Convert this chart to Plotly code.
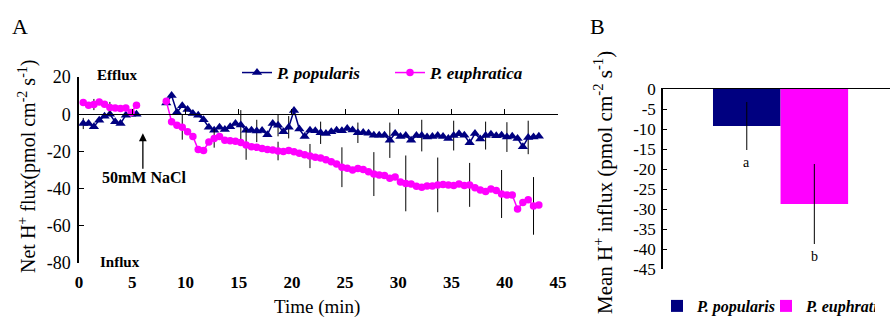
import plotly.graph_objects as go

W, H = 890, 322
FONT = "Liberation Serif"
NAVY = "#000080"
MAG = "#FF00FF"

def fx(px):
    return px / W

def fy(py):
    return 1 - py / H

# ---------------- Panel A data ----------------
t_before = [0.4, 0.9, 1.4, 1.9, 2.4, 2.9, 3.4, 3.9, 4.4, 4.9, 5.4]
pop_before = [-5.0, -5.0, -6.8, -3.2, -1.1, 0.0, -4.1, -5.0, -0.5, 0.0, 0.0]
eup_before = [6.3, 4.8, 5.2, 6.6, 5.4, 3.6, 3.4, 3.0, 3.4, 0.9, 4.8]
pop_before_err = [3, 0, 0, 0, 0, 0, 0, 0, 0, 0, 0]
eup_before_err = [0, 0, 3, 0, 0, 3, 0, 0, 0, 0, 0]

t_after = [8.2, 8.7, 9.2, 9.7, 10.2, 10.7, 11.2, 11.7, 12.2, 12.7,
           13.2, 13.7, 14.2, 14.7, 15.2, 15.7, 16.2, 16.7, 17.2, 17.7,
           18.2, 18.7, 19.2, 19.7, 20.2, 20.7, 21.2, 21.7, 22.2, 22.7,
           23.2, 23.7, 24.2, 24.7, 25.2, 25.7, 26.2, 26.7, 27.2, 27.7,
           28.2, 28.7, 29.2, 29.7, 30.2, 30.7, 31.2, 31.7, 32.2, 32.7,
           33.2, 33.7, 34.2, 34.7, 35.2, 35.7, 36.2, 36.7, 37.2, 37.7,
           38.2, 38.7, 39.2, 39.7, 40.2, 40.7, 41.2, 41.7, 42.2, 42.7,
           43.2]
pop_after = [6, 10, 1, 4.5, 2.5, 0.4, -0.5, -3, -7, -8.6,
             -7, -8.2, -6.8, -5, -5.8, -8.6, -8.6, -9, -8.8, -11,
             -5, -5.9, -9.5, -7, 2, -8, -12, -8.6, -8.9, -10,
             -10.4, -9.5, -8.6, -8.9, -7.7, -8.5, -10, -9.8, -10.2, -11.3,
             -11.3, -11.3, -14, -10.4, -12, -11.5, -14, -11.5, -11.5, -12.3,
             -12, -11.5, -12, -13, -11.5, -10.5, -11.3, -15.4, -10.4, -13.3,
             -11.5, -10.8, -11.6, -11.3, -12.3, -11.8, -13, -17.5, -12.5, -12.2,
             -11.8]
eup_after = [7, -4, -6, -7, -9.5, -12, -19, -19.5, -15, -13,
             -12, -14, -14.3, -14.5, -15.2, -16.5, -17.5, -17.8, -18.4, -19,
             -19.3, -19.8, -20, -19.5, -20.2, -21, -21.8, -22.5, -23.2, -23.6,
             -24.5, -25.5, -26.8, -28.5, -29, -30, -29.2, -29.7, -31, -32.2,
             -32.7, -33, -34.5, -33.8, -36.5, -37.2, -37.5, -38.8, -39.3, -38.6,
             -38.6, -38, -37.8, -38, -38.3, -37.5, -38.3, -38, -39.5, -40.8,
             -41.5, -40.2, -41, -42.9, -43.4, -43.4, -51, -47.5, -46, -49.3,
             -48.8]
pop_after_err = [0, 0, 0, 0, 0, 0, 0, 0, 0, 0,
                 0, 0, 0, 0, 8, 0, 0, 6, 0, 0,
                 0, 6, 0, 6, 0, 0, 0, 0, 0, 6,
                 0, 0, 0, 0, 0, 0, 5.5, 0, 0, 0,
                 0, 0, 9.5, 0, 0, 0, 0, 0, 8.5, 0,
                 0, 0, 0, 0, 8, 0, 0, 0, 0, 0,
                 7.5, 0, 0, 0, 8, 0, 0, 0, 9, 0,
                 0]
eup_after_err = [0, 0, 0, 6.7, 0, 0, 0, 0, 0, 5,
                 0, 0, 0, 0, 0, 8, 0, 0, 0, 0,
                 0, 5, 0, 0, 0, 0, 0, 6.5, 0, 0,
                 0, 0, 0, 10.7, 0, 0, 0, 0, 0, 11.8,
                 0, 0, 0, 0, 0, 15, 0, 0, 0, 0,
                 0, 14.7, 0, 0, 0, 0, 0, 11.8, 0, 0,
                 0, 0, 0, 12.9, 0, 0, 0, 0, 0, 15.5,
                 0]

x_ticks_A = [0, 5, 10, 15, 20, 25, 30, 35, 40, 45]
x_ticktext_A = ["0", "5", "10", "15", "20", "25", "30", "35", "40", "45"]
y_ticks_A = [-80, -60, -40, -20, 0, 20]
y_ticktext_A = ["-80", "-60", "-40", "-20", "0", "20"]

# ---------------- Panel B data ----------------
species = ["P. popularis", "P. euphratica"]
mean_influx = [-9.25, -28.75]
mean_err = [6, 10]
sig_letters = ["a", "b"]
bar_colors = [NAVY, MAG]
y_ticks_B = [-45, -40, -35, -30, -25, -20, -15, -10, -5, 0]
y_ticktext_B = ["-45", "-40", "-35", "-30", "-25", "-20", "-15", "-10", "-5", "0"]


def join(a, b):
    return list(a) + [None] + list(b)


def err(a, b):
    return [None if (v is None or v == 0) else v for v in join(a, b)]


fig = go.Figure()

fig.add_trace(go.Scatter(
    x=join(t_before, t_after), y=join(pop_before, pop_after),
    mode="lines+markers", name="<b><i>P. popularis</i></b>",
    line=dict(color=NAVY, width=1.5),
    marker=dict(symbol="triangle-up", size=9, color=NAVY),
    error_y=dict(type="data", array=err(pop_before_err, pop_after_err),
                 symmetric=True, color="black", thickness=1, width=0),
    connectgaps=False, xaxis="x", yaxis="y", legend="legend",
))
fig.add_trace(go.Scatter(
    x=join(t_before, t_after), y=join(eup_before, eup_after),
    mode="lines+markers", name="<b><i>P. euphratica</i></b>",
    line=dict(color=MAG, width=1.5),
    marker=dict(symbol="circle", size=7.5, color=MAG),
    error_y=dict(type="data", array=err(eup_before_err, eup_after_err),
                 symmetric=True, color="black", thickness=1, width=0),
    connectgaps=False, xaxis="x", yaxis="y", legend="legend",
))
# carrier trace for the zero-line axis with its tick marks
fig.add_trace(go.Scatter(x=[None], y=[None], xaxis="x2", yaxis="y",
                         showlegend=False, hoverinfo="skip"))

for i, sp in enumerate(species):
    fig.add_trace(go.Bar(
        x=[i], y=[mean_influx[i]], width=1,
        name="<b><i>" + sp + "</i></b>",
        marker=dict(color=bar_colors[i], line=dict(width=0)),
        error_y=dict(type="data", array=[mean_err[i]], symmetric=True,
                     color="black", thickness=1, width=0),
        xaxis="x3", yaxis="y3", legend="legend2",
    ))

yA_dom = [fy(263), fy(77)]
zero_pos = yA_dom[0] + (0 - (-80)) / 100 * (yA_dom[1] - yA_dom[0])

axis_common = dict(showgrid=False, zeroline=False)

fig.update_layout(
    width=W, height=H,
    margin=dict(l=0, r=0, t=0, b=0, autoexpand=False),
    paper_bgcolor="white", plot_bgcolor="white",
    font=dict(family=FONT, color="black"),
    barmode="overlay",
    xaxis=dict(domain=[fx(79), fx(558)], range=[0, 45], anchor="y",
               tickvals=x_ticks_A, ticktext=x_ticktext_A,
               tickfont=dict(size=17, weight="bold", family=FONT),
               showline=False, ticks="", ticklabelstandoff=7, **axis_common),
    xaxis2=dict(overlaying="x", anchor="free", position=zero_pos,
                range=[0, 45], tickvals=x_ticks_A, showticklabels=False,
                showline=True, linecolor="black", linewidth=1,
                ticks="inside", ticklen=5, tickcolor="black", tickwidth=1,
                **axis_common),
    yaxis=dict(domain=yA_dom, range=[-80, 20], anchor="x",
               tickvals=y_ticks_A, ticktext=y_ticktext_A,
               tickfont=dict(size=18, family=FONT),
               showline=True, linecolor="black", linewidth=1.5,
               ticks="inside", ticklen=5, tickcolor="black",
               ticklabelstandoff=3, **axis_common),
    xaxis3=dict(domain=[fx(663), 1.0], range=[-1.24, 2.12], anchor="y3",
                side="top", showline=True, linecolor="black", linewidth=1,
                ticks="", showticklabels=False, **axis_common),
    yaxis3=dict(domain=[fy(269), fy(89)], range=[-45, 0], anchor="x3",
                tickvals=y_ticks_B, ticktext=y_ticktext_B,
                tickfont=dict(size=17, family=FONT),
                showline=True, linecolor="black", linewidth=1.5,
                ticks="inside", ticklen=4, tickcolor="black",
                ticklabelstandoff=2, **axis_common),
    legend=dict(orientation="h", x=fx(237), xanchor="left",
                y=fy(73), yanchor="middle", entrywidth=108,
                font=dict(size=17, family=FONT), bgcolor="rgba(0,0,0,0)"),
    legend2=dict(orientation="h", x=fx(657), xanchor="left",
                 y=fy(306), yanchor="middle", itemwidth=30, entrywidth=64,
                 font=dict(size=16, family=FONT), bgcolor="rgba(0,0,0,0)"),
)


def label(text, px, py, size, angle=0):
    return dict(text=text, x=fx(px), y=fy(py), xref="paper", yref="paper",
                xanchor="center", yanchor="middle", textangle=angle,
                showarrow=False, font=dict(size=size, family=FONT))


ann = [
    label("A", 20, 27, 22),
    label("B", 597, 26, 22),
    label("Net H<sup>+</sup> flux(pmol cm<sup>-2</sup> s<sup>-1</sup>)", 27, 167, 20, -90),
    label("Mean H<sup>+</sup> influx (pmol cm<sup>-2</sup> s<sup>-1</sup>)", 603, 183, 21, -90),
    label("Time (min)", 317, 307, 19),
    label("<b>Efflux</b>", 117, 75, 15),
    label("<b>Influx</b>", 120, 262, 15),
    label("<b>50mM NaCl</b>", 144, 177, 16),
]
ann.append(dict(text="", x=6.0, y=-10.3, xref="x", yref="y", showarrow=True,
                ax=0, ay=37, arrowhead=2, arrowsize=1.2, arrowwidth=1.3,
                arrowcolor="black"))
for i, letter in enumerate(sig_letters):
    ann.append(dict(text=letter, x=i, y=mean_influx[i] - mean_err[i] - 0.7,
                    xref="x3", yref="y3", xanchor="center", yanchor="top",
                    showarrow=False, font=dict(size=14, family=FONT)))
fig.update_layout(annotations=ann)

fig.write_html("out.html")
